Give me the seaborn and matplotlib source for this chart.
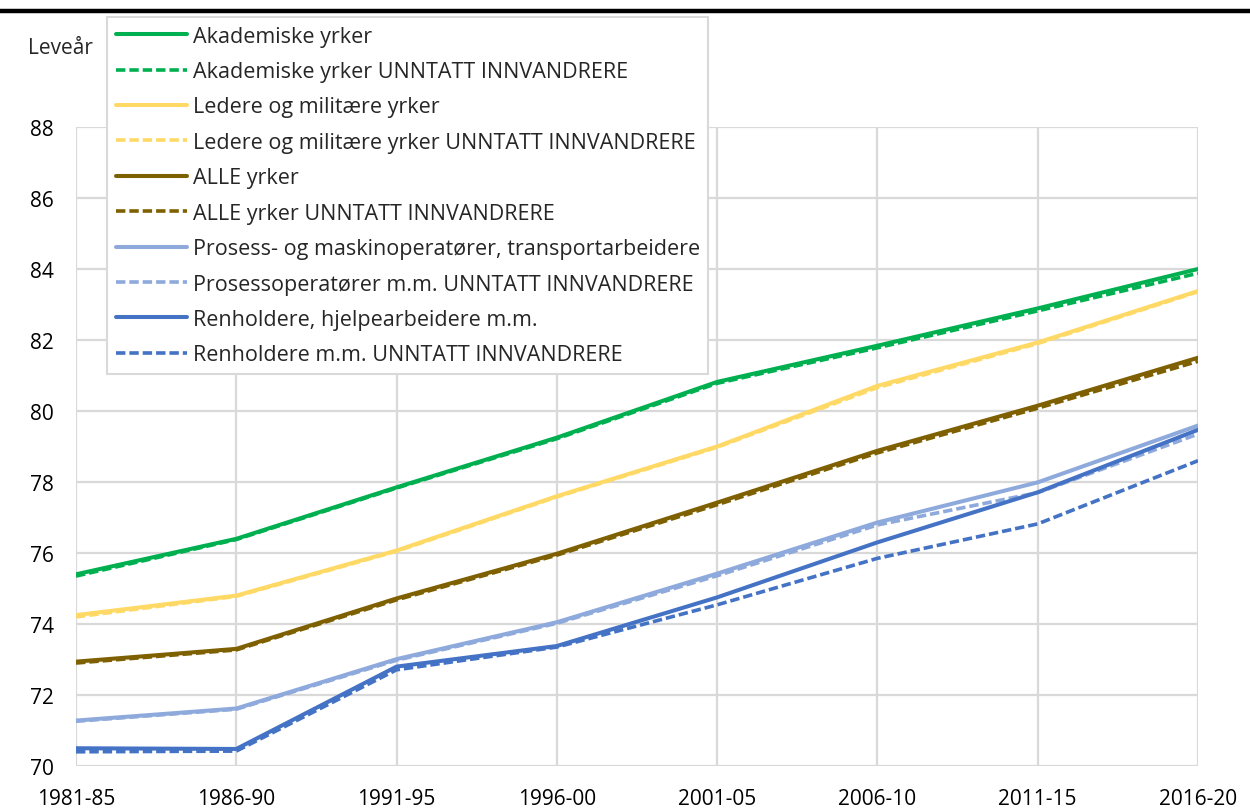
import matplotlib
matplotlib.use("Agg")
import matplotlib.pyplot as plt
import seaborn as sns
import pandas as pd

periods = ["1981-85", "1986-90", "1991-95", "1996-00", "2001-05", "2006-10", "2011-15", "2016-20"]

akademiske = [75.4, 76.4, 77.85, 79.25, 80.82, 81.84, 82.89, 84.0]
akademiske_u = [75.35, 76.38, 77.83, 79.22, 80.78, 81.78, 82.82, 83.88]
ledere = [74.25, 74.8, 76.07, 77.6, 79.0, 80.71, 81.93, 83.38]
ledere_u = [74.2, 74.78, 76.05, 77.58, 78.98, 80.66, 81.9, 83.36]
alle = [72.94, 73.3, 74.72, 75.98, 77.42, 78.88, 80.15, 81.5]
alle_u = [72.9, 73.27, 74.68, 75.94, 77.36, 78.82, 80.08, 81.4]
prosess = [71.28, 71.62, 73.01, 74.05, 75.42, 76.86, 77.99, 79.59]
prosess_u = [71.26, 71.6, 72.98, 74.02, 75.36, 76.79, 77.7, 79.35]
renhold = [70.5, 70.48, 72.8, 73.38, 74.75, 76.3, 77.71, 79.47]
renhold_u = [70.4, 70.42, 72.71, 73.35, 74.54, 75.85, 76.82, 78.6]

labels = [
    "Akademiske yrker",
    "Akademiske yrker UNNTATT INNVANDRERE",
    "Ledere og militære yrker",
    "Ledere og militære yrker UNNTATT INNVANDRERE",
    "ALLE yrker",
    "ALLE yrker UNNTATT INNVANDRERE",
    "Prosess- og maskinoperatører, transportarbeidere",
    "Prosessoperatører m.m. UNNTATT INNVANDRERE",
    "Renholdere, hjelpearbeidere m.m.",
    "Renholdere m.m. UNNTATT INNVANDRERE",
]
series = [akademiske, akademiske_u, ledere, ledere_u, alle, alle_u,
          prosess, prosess_u, renhold, renhold_u]
colors = ["#00B050", "#00B050", "#FFD966", "#FFD966", "#7F6000", "#7F6000",
          "#8EA9DB", "#8EA9DB", "#4472C4", "#4472C4"]

sns.set_theme(style="white")
plt.rcParams['font.family'] = ['Open Sans', 'DejaVu Sans']

fig = plt.figure(figsize=(12.5, 8.12), dpi=100)
ax = fig.add_axes([76/1250, 1-767/812, (1198-76)/1250, (767-128)/812])

xs = list(range(len(periods)))
for i, (lab, vals, col) in enumerate(zip(labels, series, colors)):
    df = pd.DataFrame({"x": xs, "y": vals})
    dashed = (i % 2 == 1)
    sns.lineplot(data=df, x="x", y="y", ax=ax, color=col,
                 linewidth=2.9 if not dashed else 2.6,
                 linestyle=(0, (2.6, 1.1)) if dashed else "-",
                 label=lab, legend=False, zorder=3)

ax.set_xlim(0, 7)
ax.set_ylim(70, 88)
ax.set_xticks(xs)
ax.set_xticklabels(periods)
ax.set_yticks(range(70, 89, 2))
ax.set_xlabel("")
ax.set_ylabel("")
ax.grid(True, color="#D9D9D9", linewidth=1.6, zorder=0)
ax.set_axisbelow(True)
for s in ax.spines.values():
    s.set_visible(False)
ax.tick_params(axis="x", length=0, pad=16, labelsize=15, colors="#000000")
ax.tick_params(axis="y", length=0, pad=16, labelsize=15, colors="#000000")

handles, labs = ax.get_legend_handles_labels()
leg = fig.legend(handles, labs, loc="upper left",
                 bbox_to_anchor=(107/1250, 1-18/812),
                 fontsize=15.5, frameon=True, fancybox=False,
                 edgecolor="#D9D9D9", facecolor="white", framealpha=1,
                 handlelength=3.3, handletextpad=0.28, labelspacing=0.67,
                 borderpad=0.4, borderaxespad=0)
leg.get_frame().set_linewidth(1.5)
leg.set_zorder(10)

fig.text(28/1250, 1-48/812, "Leveår", fontsize=15, ha="left", va="center")

fig.add_artist(plt.Line2D([0, 1], [1-11.5/812, 1-11.5/812], color="black",
                          linewidth=3.2, transform=fig.transFigure))

fig.savefig("out.png", dpi=100)
